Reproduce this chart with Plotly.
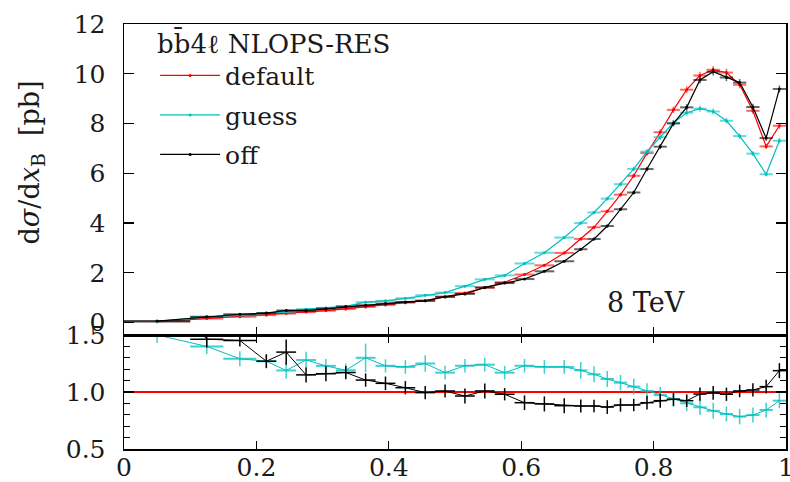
import plotly.graph_objects as go

# ---- data -------------------------------------------------------------
bin_edges = [0.0, 0.1, 0.15, 0.2, 0.23, 0.26, 0.29, 0.32, 0.35, 0.38, 0.41, 0.44,
             0.47, 0.5, 0.53, 0.56, 0.59, 0.62, 0.65, 0.68, 0.7, 0.72, 0.74, 0.76,
             0.78, 0.8, 0.82, 0.84, 0.86, 0.88, 0.9, 0.92, 0.94, 0.96, 0.98, 1.0]

xs_default = [0.03, 0.16, 0.23, 0.30, 0.36, 0.42, 0.48, 0.55, 0.63, 0.71, 0.80, 0.88,
              1.03, 1.19, 1.40, 1.62, 1.93, 2.30, 2.80, 3.36, 3.83, 4.47, 5.14, 5.90,
              6.81, 7.65, 8.55, 9.36, 9.93, 10.16, 10.05, 9.56, 8.51, 7.08, 7.91]
xs_guess = [0.045, 0.224, 0.297, 0.381, 0.428, 0.538, 0.590, 0.655, 0.819, 0.873,
            0.976, 1.100, 1.205, 1.464, 1.736, 1.895, 2.374, 2.806, 3.416, 3.998,
            4.424, 4.980, 5.561, 6.177, 6.871, 7.451, 8.028, 8.433, 8.599, 8.484,
            8.110, 7.495, 6.791, 5.961, 7.309]
xs_off = [0.060, 0.234, 0.334, 0.381, 0.486, 0.483, 0.557, 0.644, 0.696, 0.764,
          0.830, 0.875, 1.039, 1.148, 1.413, 1.588, 1.749, 2.059, 2.464, 2.947,
          3.359, 3.880, 4.554, 5.227, 6.170, 7.069, 8.003, 8.649, 9.751, 10.079,
          9.849, 9.646, 8.663, 7.413, 9.389]

# ratio-panel uncertainties (half widths)
ratio_err_guess = [0.07, 0.066, 0.066, 0.055, 0.073, 0.073, 0.06, 0.06, 0.125, 0.058,
                   0.06, 0.073, 0.06, 0.06, 0.06, 0.06, 0.06, 0.06, 0.06, 0.073,
                   0.07, 0.07, 0.068, 0.07, 0.068, 0.07, 0.068, 0.07, 0.068, 0.07,
                   0.066, 0.068, 0.066, 0.066, 0.066]
ratio_err_off = [0.08, 0.073, 0.053, 0.061, 0.11, 0.066, 0.066, 0.058, 0.058, 0.06,
                 0.058, 0.058, 0.058, 0.066, 0.066, 0.054, 0.064, 0.066, 0.066, 0.058,
                 0.055, 0.06, 0.058, 0.055, 0.06, 0.062, 0.058, 0.055, 0.058, 0.06,
                 0.058, 0.055, 0.058, 0.06, 0.066]

x_ticks = [0, 0.2, 0.4, 0.6, 0.8, 1.0]
x_ticklabels = ["0", "0.2", "0.4", "0.6", "0.8", "1"]
y_ticks = [0, 2, 4, 6, 8, 10, 12]
r_ticks = [0.5, 1.0, 1.5]
r_ticklabels = ["0.5", "1.0", "1.5"]

# ---- derived ------------------------------------------------------------
centers = [(a + b) / 2 for a, b in zip(bin_edges[:-1], bin_edges[1:])]
halfw = [(b - a) / 2 for a, b in zip(bin_edges[:-1], bin_edges[1:])]
r_default = [d / d for d in xs_default]
r_guess = [g / d for g, d in zip(xs_guess, xs_default)]
r_off = [o / d for o, d in zip(xs_off, xs_default)]

RED = "#ff0000"
CYAN = "#00bfbf"
BLACK = "#000000"
FONT = "DejaVu Serif"
TXT = "#1a1a1a"

series = [
    ("default", xs_default, RED, "rgba(255,0,0,0.6)"),
    ("guess", xs_guess, CYAN, "rgba(0,191,191,0.6)"),
    ("off", xs_off, BLACK, "rgba(0,0,0,0.6)"),
]

fig = go.Figure()
for i, (name, vals, col, ecol) in enumerate(series):
    fig.add_trace(go.Scatter(
        x=centers, y=vals, name=name, mode="lines+markers",
        line=dict(color=col, width=1.2), marker=dict(color=col, size=3),
        error_x=dict(type="data", array=halfw, color=ecol, thickness=2, width=0),
        error_y=dict(type="percent", value=1.5, color=ecol, thickness=1.5, width=0),
        xaxis="x2", yaxis="y2", legendgroup=name, showlegend=True,
    ))

# ratio panel
fig.add_trace(go.Scatter(
    x=centers, y=r_default, mode="lines", line=dict(color=RED, width=2),
    error_x=dict(type="data", array=halfw, color=RED, thickness=2, width=0),
    xaxis="x", yaxis="y", showlegend=False,
))
fig.add_trace(go.Scatter(
    x=centers, y=r_guess, mode="lines", line=dict(color=CYAN, width=1),
    error_x=dict(type="data", array=halfw, color="rgba(0,191,191,0.75)", thickness=2, width=0),
    error_y=dict(type="data", array=ratio_err_guess, color="rgba(0,191,191,0.75)", thickness=1.5, width=0),
    xaxis="x", yaxis="y", showlegend=False,
))
fig.add_trace(go.Scatter(
    x=centers, y=r_off, mode="lines", line=dict(color=BLACK, width=1),
    error_x=dict(type="data", array=halfw, color=BLACK, thickness=1.5, width=0),
    error_y=dict(type="data", array=ratio_err_off, color=BLACK, thickness=1.5, width=0),
    xaxis="x", yaxis="y", showlegend=False,
))

tickfont = dict(family=FONT, size=25, color=TXT)
split = 114 / 425

fig.update_layout(
    width=790, height=482,
    margin=dict(l=124, r=4, t=24, b=33, autoexpand=False),
    paper_bgcolor="white", plot_bgcolor="white",
    font=dict(family=FONT, color=TXT),
    hovermode=False,
    xaxis=dict(domain=[0, 1], range=[0, 1], anchor="y", automargin=False,
               tickvals=x_ticks, ticktext=x_ticklabels, tickfont=tickfont,
               ticklabeloverflow="allow", ticklabelstandoff=-5,
               ticks="inside", ticklen=8, tickwidth=1.2, tickcolor="black",
               showline=True, linecolor="black", linewidth=1.5, mirror="ticks",
               showgrid=False, zeroline=False),
    yaxis=dict(domain=[0, split], range=[0.5, 1.5], anchor="x", automargin=False,
               tickvals=r_ticks, ticktext=r_ticklabels, tickfont=tickfont,
               ticks="inside", ticklen=10, tickwidth=1.2, tickcolor="black",
               minor=dict(dtick=0.1, tick0=0.5, ticks="inside", ticklen=6, tickwidth=1, tickcolor="black"),
               showline=True, linecolor="black", linewidth=1.5, mirror="ticks",
               showgrid=False, zeroline=False, ticklabelstandoff=12),
    xaxis2=dict(domain=[0, 1], range=[0, 1], anchor="y2", matches="x", automargin=False,
                tickvals=x_ticks, showticklabels=False,
                ticks="inside", ticklen=8, tickwidth=1.2, tickcolor="black",
                showline=True, linecolor="black", linewidth=1.5, mirror=True,
                showgrid=False, zeroline=False),
    yaxis2=dict(domain=[split, 1], range=[-0.5, 12], anchor="x2", automargin=False,
                tickvals=y_ticks, tickfont=tickfont,
                ticks="inside", ticklen=10, tickwidth=1.2, tickcolor="black",
                showline=True, linecolor="black", linewidth=1.5, mirror="ticks",
                showgrid=False, zeroline=False, ticklabelstandoff=12),
    legend=dict(x=0.047, y=1.012, xanchor="left", yanchor="top",
                bgcolor="rgba(0,0,0,0)",
                title=dict(text="bb\u03044\u2113 NLOPS-RES", font=dict(family=FONT, size=26, color=TXT)),
                font=dict(family=FONT, size=25, color=TXT),
                tracegroupgap=4, itemwidth=60),
    annotations=[
        dict(text="d<i>\u03c3</i>/d<i>x</i><sub>B</sub>  [pb]", textangle=-90,
             xref="paper", yref="paper", x=-0.14, y=0.675,
             xanchor="center", yanchor="middle", showarrow=False,
             font=dict(family=FONT, size=27, color=TXT)),
        dict(text="8 TeV", xref="x2", yref="y2", x=0.788, y=0.8,
             xanchor="center", yanchor="middle", showarrow=False,
             font=dict(family=FONT, size=27, color=TXT)),
    ],
)

fig.write_html("out.html", config={"displayModeBar": False, "staticPlot": True},
               post_script="document.body.style.margin='0';document.body.style.overflow='hidden';")
